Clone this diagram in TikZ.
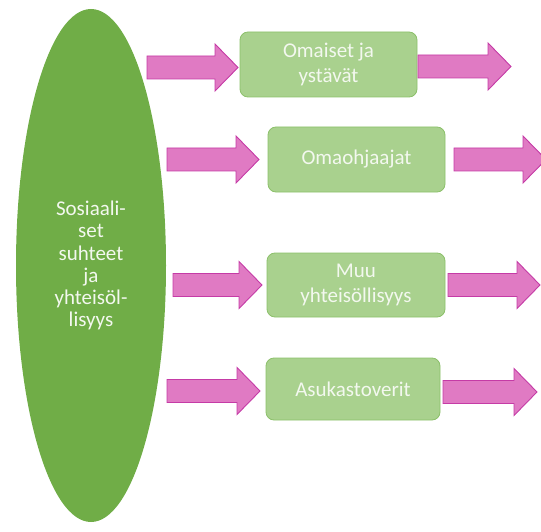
\documentclass[tikz,border=0pt]{standalone}
\usepackage{fontspec}
\setmainfont{Carlito}
\usetikzlibrary{shapes.geometric}
\definecolor{darkgreen}{HTML}{70AD47}
\definecolor{lightgreen}{HTML}{A9D18E}
\definecolor{boxedge}{HTML}{8CC06A}
\definecolor{pinkfill}{HTML}{E07AC3}
\definecolor{pinkedge}{HTML}{C53BA6}
\definecolor{paletext}{HTML}{F3F8EF}
\tikzset{
  hub/.style={ellipse, fill=darkgreen, draw=none, minimum width=150pt, minimum height=513pt,
    inner sep=0pt, text=paletext, align=center,
    font=\fontsize{21}{22.2}\selectfont},
  itembox/.style={rounded corners=8pt, fill=lightgreen, draw=boxedge, line width=0.8pt,
    text=paletext, align=center, inner sep=0pt,
    font=\fontsize{21}{25}\selectfont},
  blockarrow/.style={fill=pinkfill, draw=pinkedge, line width=0.9pt, line join=miter},
}
% block arrow: #1 = tail x, #2 = tip x, #3 = centre y
\newcommand{\pinkarrow}[3]{%
  \path[blockarrow] (#1,#3-11.5) -- (#2-23,#3-11.5) -- (#2-23,#3-23.5) -- (#2,#3)
    -- (#2-23,#3+23.5) -- (#2-23,#3+11.5) -- (#1,#3+11.5) -- cycle;}
\begin{document}
\begin{tikzpicture}[x=1pt, y=-1pt]
  \useasboundingbox (0,0) rectangle (541,532);
  \begin{scope}
  \clip (0,0) rectangle (541,532);

  \node[hub] (hub) at (91,265.5) {Sosiaali-\\set\\suhteet\\ja\\yhteisöl-\\lisyys};

  \node[itembox, minimum width=177pt, minimum height=65pt] (omaiset) at (328.5,64.5) {Omaiset ja\\ystävät};
  \node[itembox, minimum width=177pt, minimum height=65pt] (omaoh) at (356.5,159.5) {Omaohjaajat};
  \node[itembox, minimum width=178pt, minimum height=64pt] (muu) at (356,285) {Muu\\yhteisöllisyys};
  \node[itembox, minimum width=174pt, minimum height=62pt] (asuk) at (353,389) {Asukastoverit};

  % arrows into and out of each box
  \pinkarrow{147}{238}{67.5}
  \pinkarrow{418}{511}{66.5}
  \pinkarrow{167}{259}{159.5}
  \pinkarrow{454}{546}{159.5}
  \pinkarrow{173}{262}{285}
  \pinkarrow{448}{540}{285}
  \pinkarrow{167}{260}{391}
  \pinkarrow{443}{537}{392}
  \end{scope}
\end{tikzpicture}
\end{document}
